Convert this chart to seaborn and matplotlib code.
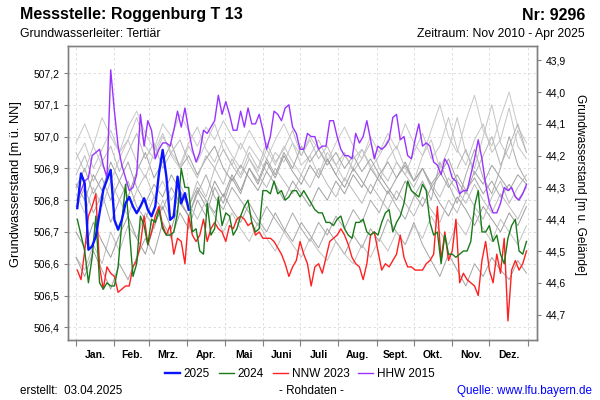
import numpy as np
import pandas as pd
import seaborn as sns
import matplotlib.pyplot as plt
from matplotlib.lines import Line2D
from matplotlib.ticker import FixedLocator, FuncFormatter

# Messstelle Roggenburg T 13, Jahresgang Grundwasserstand (m ue. NN)
gelaende = 551.14  # Gelaendehoehe fuer die rechte Achse (m u. Gelaende)

monate = ["Jan.", "Feb.", "Mrz.", "Apr.", "Mai", "Juni",
          "Juli", "Aug.", "Sept.", "Okt.", "Nov.", "Dez."]
monatsgrenzen = [0, 31, 59, 90, 120, 151, 181, 212, 243, 273, 304, 334, 365]

werte_2025 = [506.775, 506.884, 506.853, 506.644, 506.655, 506.686, 506.759, 506.832, 506.864, 506.895,
              506.738, 506.707, 506.738, 506.790, 506.810, 506.780, 506.759, 506.780, 506.806, 506.770,
              506.749, 506.780, 506.884, 506.958, 506.874, 506.738, 506.749, 506.874, 506.790, 506.822, 506.770]

werte_2024 = [506.74, 506.69, 506.64, 506.54, 506.62, 506.75, 506.54, 506.52, 506.54, 506.53,
              506.53, 506.59, 506.73, 506.85, 506.71, 506.56, 506.60, 506.75, 506.72, 506.66,
              506.74, 506.73, 506.77, 506.71, 506.69, 506.69, 506.70, 506.76, 506.90, 506.84, 506.84,
              506.70, 506.71, 506.64, 506.63, 506.79, 506.69, 506.71, 506.81, 506.72, 506.76,
              506.75, 506.69, 506.71, 506.75, 506.78, 506.80, 506.73, 506.70, 506.71, 506.83,
              506.83, 506.82, 506.86, 506.82, 506.83, 506.80, 506.81, 506.83, 506.83, 506.81, 506.83,
              506.81, 506.79, 506.77, 506.76, 506.76, 506.73, 506.73, 506.72, 506.74, 506.75,
              506.71, 506.69, 506.68, 506.73, 506.73, 506.74, 506.70, 506.69, 506.70, 506.69,
              506.73, 506.76, 506.77, 506.70, 506.73, 506.75, 506.79, 506.86, 506.83, 506.82, 506.81,
              506.85, 506.83, 506.73, 506.69, 506.70, 506.60, 506.69, 506.63, 506.63, 506.62,
              506.63, 506.64, 506.64, 506.67, 506.78, 506.83, 506.70, 506.70, 506.72, 506.67,
              506.69, 506.63, 506.60, 506.68, 506.72, 506.74, 506.64, 506.63, 506.67]

werte_2023 = [506.58, 506.55, 506.64, 506.75, 506.78, 506.82, 506.59, 506.52, 506.59, 506.57,
              506.56, 506.51, 506.52, 506.53, 506.53, 506.59, 506.61, 506.66, 506.75, 506.66,
              506.70, 506.75, 506.78, 506.72, 506.69, 506.72, 506.63, 506.68, 506.67, 506.60, 506.75,
              506.69, 506.67, 506.69, 506.74, 506.67, 506.71, 506.73, 506.71, 506.70, 506.67,
              506.72, 506.71, 506.74, 506.75, 506.74, 506.72, 506.73, 506.69, 506.70, 506.68,
              506.68, 506.68, 506.67, 506.65, 506.63, 506.60, 506.56, 506.59, 506.61, 506.67, 506.63,
              506.60, 506.53, 506.59, 506.60, 506.57, 506.62, 506.67, 506.68, 506.69, 506.71,
              506.69, 506.66, 506.62, 506.60, 506.59, 506.55, 506.60, 506.69, 506.70, 506.64,
              506.58, 506.60, 506.59, 506.61, 506.63, 506.69, 506.62, 506.59, 506.59, 506.58, 506.58,
              506.58, 506.60, 506.61, 506.63, 506.78, 506.61, 506.70, 506.61, 506.64, 506.74,
              506.54, 506.57, 506.55, 506.54, 506.53, 506.50, 506.61, 506.67, 506.58, 506.54,
              506.63, 506.57, 506.68, 506.42, 506.58, 506.61, 506.58, 506.60, 506.64]

werte_2015 = [506.80, 506.83, 506.86, 506.87, 506.94, 506.95, 506.96, 506.91, 506.87, 507.21,
              507.08, 506.97, 506.91, 506.87, 506.83, 506.84, 506.88, 507.07, 506.97, 507.05,
              507.02, 506.93, 506.96, 506.98, 506.98, 506.97, 507.02, 507.08, 507.03, 507.09, 507.02,
              506.96, 506.92, 506.95, 507.02, 507.01, 507.03, 507.05, 507.13, 507.07, 507.11,
              507.07, 507.02, 507.02, 507.08, 507.03, 507.09, 507.04, 507.04, 507.07, 507.02,
              506.96, 507.00, 507.08, 507.07, 507.05, 507.09, 507.10, 507.03, 507.01, 506.96, 506.96,
              507.01, 507.00, 507.00, 506.96, 506.97, 506.97, 507.05, 507.05, 507.00, 506.96,
              506.94, 506.94, 506.93, 507.01, 506.98, 507.00, 507.05, 506.99, 506.93, 506.97,
              506.96, 506.97, 506.99, 507.06, 507.07, 506.99, 507.00, 506.94, 506.93, 506.99, 507.04,
              506.97, 506.98, 506.97, 506.92, 506.91, 506.88, 506.93, 506.91, 506.87, 506.86,
              506.82, 506.83, 506.83, 506.88, 506.93, 506.99, 506.93, 506.85, 506.79, 506.76,
              506.76, 506.79, 506.84, 506.83, 506.84, 506.81, 506.80, 506.82, 506.85]

grau_2011 = [506.93, 506.98, 506.90, 506.96, 507.02, 506.95, 506.99, 507.06, 506.97, 506.93,
             507.00, 506.95, 506.91, 506.98, 507.03, 506.96, 506.92, 506.99, 506.94, 506.90,
             506.97, 506.93, 506.89, 506.95, 506.92, 506.98, 506.91, 506.94, 506.88, 506.95,
             506.91, 506.86, 506.93, 506.96, 506.90, 506.94, 506.99, 506.92, 506.88, 506.95,
             507.01, 506.93, 506.97, 507.06, 506.96, 506.91, 506.99, 507.04, 506.95, 506.99,
             507.09, 506.97, 506.93]
grau_2012 = [506.85, 506.80, 506.88, 506.83, 506.92, 506.86, 506.81, 506.89, 506.95, 506.87,
             506.92, 506.98, 506.90, 506.94, 506.88, 506.93, 506.97, 506.90, 506.86, 506.91,
             506.87, 506.83, 506.89, 506.85, 506.80, 506.86, 506.82, 506.78, 506.84, 506.80,
             506.86, 506.82, 506.88, 506.84, 506.90, 506.86, 506.82, 506.87, 506.92, 506.86,
             506.90, 506.84, 506.88, 506.93, 506.86, 506.82, 506.89, 506.85, 506.91, 506.87,
             506.83, 506.88, 506.85]
grau_2013 = [506.62, 506.58, 506.66, 506.60, 506.70, 506.64, 506.72, 506.68, 506.76, 506.71,
             506.80, 506.74, 506.83, 506.78, 506.86, 506.81, 506.90, 506.85, 506.93, 506.88,
             506.95, 506.90, 506.98, 506.92, 506.96, 507.02, 506.94, 506.99, 506.93, 506.97,
             506.91, 506.95, 506.89, 506.93, 506.98, 506.90, 506.86, 506.92, 506.88, 506.84,
             506.90, 506.85, 506.81, 506.87, 506.83, 506.79, 506.85, 506.80, 506.76, 506.82,
             506.78, 506.74, 506.80]
grau_2014 = [506.78, 506.84, 506.76, 506.82, 506.73, 506.80, 506.86, 506.78, 506.74, 506.81,
             506.77, 506.84, 506.79, 506.75, 506.82, 506.88, 506.81, 506.77, 506.84, 506.80,
             506.76, 506.72, 506.78, 506.74, 506.70, 506.76, 506.71, 506.67, 506.73, 506.69,
             506.75, 506.71, 506.77, 506.73, 506.80, 506.76, 506.83, 506.78, 506.74, 506.81,
             506.86, 506.80, 506.92, 506.85, 506.79, 506.88, 506.96, 506.87, 506.82, 506.90,
             507.00, 506.91, 506.86]
grau_2016 = [506.98, 507.04, 506.97, 507.06, 507.00, 506.95, 507.03, 507.08, 507.01, 506.96,
             507.04, 507.00, 507.07, 507.02, 506.97, 507.03, 506.99, 507.05, 507.00, 506.96,
             507.02, 506.97, 506.93, 506.99, 507.04, 506.98, 506.94, 507.00, 506.96, 506.92,
             506.98, 507.03, 506.97, 506.93, 507.00, 506.95, 507.01, 506.96, 507.04, 506.98,
             506.94, 507.02, 507.10, 507.00, 506.95, 507.05, 507.13, 507.02, 506.97, 507.06,
             507.14, 507.03, 506.98]
grau_2017 = [506.84, 506.90, 506.82, 506.87, 506.80, 506.86, 506.92, 506.84, 506.79, 506.85,
             506.81, 506.88, 506.83, 506.78, 506.84, 506.80, 506.76, 506.82, 506.77, 506.73,
             506.79, 506.74, 506.70, 506.76, 506.71, 506.67, 506.73, 506.69, 506.65, 506.71,
             506.67, 506.63, 506.69, 506.65, 506.71, 506.67, 506.74, 506.70, 506.66, 506.73,
             506.66, 506.61, 506.56, 506.63, 506.58, 506.53, 506.60, 506.56, 506.62, 506.58,
             506.55, 506.61, 506.57]
grau_2018 = [506.95, 506.89, 506.97, 506.91, 506.86, 506.93, 506.99, 506.92, 506.87, 506.95,
             507.01, 506.94, 506.90, 506.97, 506.92, 506.98, 507.04, 506.96, 506.91, 506.98,
             506.93, 506.89, 506.96, 506.91, 506.97, 506.92, 506.88, 506.94, 506.99, 506.93,
             506.88, 506.94, 506.90, 506.96, 506.91, 506.86, 506.93, 506.97, 506.90, 506.86,
             506.94, 506.99, 506.90, 506.96, 507.06, 506.95, 506.90, 507.00, 507.10, 506.98,
             506.93, 507.02, 506.95]
grau_2019 = [506.70, 506.65, 506.73, 506.67, 506.62, 506.69, 506.75, 506.68, 506.63, 506.72,
             506.78, 506.71, 506.80, 506.75, 506.83, 506.78, 506.86, 506.81, 506.88, 506.83,
             506.90, 506.85, 506.92, 506.87, 506.94, 506.89, 506.85, 506.91, 506.87, 506.93,
             506.88, 506.84, 506.90, 506.86, 506.82, 506.88, 506.84, 506.80, 506.86, 506.82,
             506.78, 506.84, 506.79, 506.75, 506.81, 506.77, 506.72, 506.78, 506.74, 506.70,
             506.76, 506.72, 506.78]
grau_2020 = [506.88, 506.94, 506.86, 506.92, 506.97, 506.89, 506.95, 507.01, 506.93, 506.98,
             506.90, 506.95, 506.99, 506.92, 506.87, 506.94, 506.90, 506.96, 506.91, 506.87,
             506.93, 506.88, 506.84, 506.90, 506.86, 506.82, 506.88, 506.84, 506.90, 506.85,
             506.81, 506.87, 506.83, 506.79, 506.85, 506.81, 506.77, 506.83, 506.79, 506.75,
             506.81, 506.77, 506.73, 506.80, 506.76, 506.83, 506.78, 506.74, 506.81, 506.86,
             506.79, 506.84, 506.88]
grau_2021 = [506.62, 506.56, 506.64, 506.58, 506.52, 506.60, 506.55, 506.62, 506.68, 506.63,
             506.73, 506.68, 506.76, 506.71, 506.80, 506.75, 506.84, 506.79, 506.87, 506.82,
             506.90, 506.86, 506.93, 506.88, 506.95, 506.90, 506.97, 506.92, 506.96, 506.91,
             506.95, 506.90, 506.94, 506.89, 506.93, 506.88, 506.92, 506.87, 506.91, 506.86,
             506.90, 506.85, 506.89, 506.84, 506.88, 506.83, 506.87, 506.82, 506.86, 506.81,
             506.85, 506.80, 506.84]
grau_2022 = [506.82, 506.76, 506.84, 506.78, 506.86, 506.80, 506.75, 506.83, 506.88, 506.81,
             506.86, 506.80, 506.85, 506.79, 506.74, 506.80, 506.75, 506.70, 506.76, 506.71,
             506.67, 506.73, 506.68, 506.64, 506.70, 506.66, 506.62, 506.68, 506.64, 506.61,
             506.67, 506.63, 506.60, 506.66, 506.62, 506.68, 506.64, 506.70, 506.66, 506.72,
             506.68, 506.75, 506.70, 506.66, 506.73, 506.69, 506.76, 506.71, 506.67, 506.74,
             506.70, 506.66, 506.72]
grau_2010 = [506.90, 506.96, 506.88, 506.94, 507.00, 506.91, 506.97, 507.04, 506.95]  # ab Nov.

plt.rcParams['font.family'] = ['Liberation Sans', 'DejaVu Sans']

# Tabellen fuer seaborn
grau = {"2011": grau_2011, "2012": grau_2012, "2013": grau_2013, "2014": grau_2014,
        "2016": grau_2016, "2017": grau_2017, "2018": grau_2018, "2019": grau_2019,
        "2020": grau_2020, "2021": grau_2021, "2022": grau_2022}
teile = []
for jahr, w in grau.items():
    teile.append(pd.DataFrame({"jahr": jahr, "tag": np.arange(len(w)) * 7, "wert": w}))
teile.append(pd.DataFrame({"jahr": "2010", "tag": 308 + np.arange(len(grau_2010)) * 7,
                           "wert": grau_2010}))
df_grau = pd.concat(teile, ignore_index=True)
grau_farben = dict(zip(["2010"] + list(grau),
                       ["#b5b5b5", "#c4c4c4", "#a0a0a0", "#bdbdbd", "#aaaaaa", "#c8c8c8",
                        "#a4a4a4", "#c4c4c4", "#9c9c9c", "#bababa", "#a3a3a3", "#c2c2c2"]))

tage = np.arange(1, 365, 3)
serien = [("HHW 2015", werte_2015, "#9933ff", 1.0),
          ("NNW 2023", werte_2023, "#ff2020", 1.0),
          ("2024", werte_2024, "#1a7a1a", 1.0),
          ("2025", werte_2025, "#0a14ff", 1.7)]

fig = plt.figure(figsize=(6, 4), dpi=100)
ax = fig.add_axes([68 / 600, 60 / 400, 469 / 600, 294 / 400])

sns.lineplot(data=df_grau, x="tag", y="wert", hue="jahr", palette=grau_farben,
             estimator=None, sort=False, linewidth=0.7, legend=False, ax=ax)
for name, w, farbe, lw in serien:
    d = pd.DataFrame({"tag": tage[:len(w)], "wert": w})
    sns.lineplot(data=d, x="tag", y="wert", color=farbe, linewidth=lw,
                 estimator=None, sort=False, ax=ax, zorder=3)

ylim = (506.36, 507.285)
ax.set_xlim(-6.5, 372.5)
ax.set_ylim(*ylim)
ax.set_xlabel("")
ax.set_ylabel("Grundwasserstand [m ü. NN]", fontsize=9.3)
ax.yaxis.set_label_coords(-0.098, 0.53)

ax.xaxis.set_major_locator(FixedLocator(monatsgrenzen))
ax.xaxis.set_major_formatter(FuncFormatter(lambda v, p: ""))
mitten = [(a + b) / 2 for a, b in zip(monatsgrenzen[:-1], monatsgrenzen[1:])]
ax.xaxis.set_minor_locator(FixedLocator(mitten))
ax.set_xticks(mitten, minor=True)
ax.set_xticklabels(monate, minor=True, fontsize=7.5, fontweight="bold")
ax.tick_params(axis="x", which="major", length=4, color="#808080")
ax.tick_params(axis="x", which="minor", length=0, pad=7)

yt = np.round(np.arange(506.4, 507.25, 0.1), 1)
ax.set_yticks(yt)
ax.set_yticklabels([f"{v:.1f}".replace(".", ",") for v in yt], fontsize=7.5)
ax.tick_params(axis="y", length=3, color="#808080", pad=3)

ax.grid(True, which="major", color="#d9d9d9", linestyle=(0, (3, 3)), linewidth=0.6)
ax.set_axisbelow(True)
for s in ax.spines.values():
    s.set_color("#808080")
    s.set_linewidth(1.0)

ax2 = ax.twinx()
ax2.set_ylim(gelaende - ylim[0], gelaende - ylim[1])
rt = np.round(np.arange(43.9, 44.75, 0.1), 1)
ax2.set_yticks(rt)
ax2.set_yticklabels([f"{v:.1f}".replace(".", ",") for v in rt], fontsize=7.5)
ax2.tick_params(axis="y", length=3, color="#808080", pad=3)
ax2.set_ylabel("Grundwasserstand [m u. Gelände]", fontsize=8.6, rotation=270, va="center")
ax2.yaxis.set_label_coords(1.0917, 0.53)
for s in ax2.spines.values():
    s.set_color("#808080")
    s.set_linewidth(1.0)

# Legende
handles = [Line2D([], [], color="#0a14ff", lw=1.7),
           Line2D([], [], color="#1a7a1a", lw=1.0),
           Line2D([], [], color="#ff2020", lw=1.0),
           Line2D([], [], color="#9933ff", lw=1.0)]
fig.legend(handles, ["2025", "2024", "NNW 2023", "HHW 2015"], loc="center",
           bbox_to_anchor=(0.5, 1 - 374 / 400), ncol=4, frameon=False, fontsize=8.5,
           handlelength=1.25, handletextpad=0.35, columnspacing=0.75)

# Kopf- und Fusszeilen
fig.text(20 / 600, 1 - 15 / 400, "Messstelle: Roggenburg T 13", fontsize=11.5,
         fontweight="bold", va="center")
fig.text(585 / 600, 1 - 15 / 400, "Nr: 9296", fontsize=11.5, fontweight="bold",
         va="center", ha="right")
fig.text(20 / 600, 1 - 34 / 400, "Grundwasserleiter: Tertiär", fontsize=8.8, va="center")
fig.text(585 / 600, 1 - 34 / 400, "Zeitraum: Nov 2010 - Apr 2025", fontsize=8.8,
         va="center", ha="right")
fig.text(20 / 600, 1 - 391 / 400, "erstellt:  03.04.2025", fontsize=8.4, va="center")
fig.text(311 / 600, 1 - 391 / 400, "- Rohdaten -", fontsize=8.4, va="center", ha="center")
fig.text(592 / 600, 1 - 391 / 400, "Quelle: www.lfu.bayern.de", fontsize=8.4, va="center",
         ha="right", color="#0000ff")

fig.savefig("out.png", dpi=100)
